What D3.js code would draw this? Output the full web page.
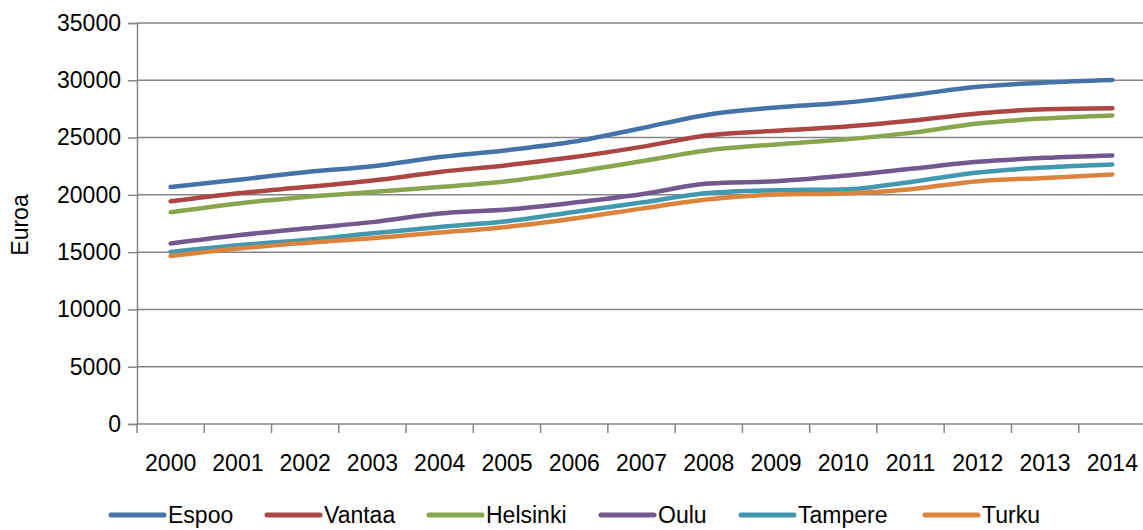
<!DOCTYPE html>
<html>
<head>
<meta charset="utf-8">
<script src="https://cdn.jsdelivr.net/npm/d3@7"></script>
<style>
  body { margin: 0; background: #fff; }
  svg text { font-family: "Liberation Sans", Arial, sans-serif; fill: #000; }
</style>
</head>
<body>
<div id="chart"></div>
<script>
// Chart data
const years = ['2000', '2001', '2002', '2003', '2004', '2005', '2006', '2007',
    '2008', '2009', '2010', '2011', '2012', '2013', '2014'];
const espoo    = [20690, 21320, 21980, 22500, 23300, 23900, 24650, 25820, 27020, 27630, 28030, 28700, 29430, 29800, 30020];
const vantaa   = [19440, 20140, 20680, 21250, 22000, 22590, 23300, 24190, 25200, 25590, 25940, 26460, 27110, 27480, 27570];
const helsinki = [18480, 19250, 19820, 20250, 20690, 21190, 22000, 22940, 23900, 24400, 24830, 25410, 26230, 26670, 26930];
const oulu     = [15750, 16470, 17060, 17620, 18370, 18720, 19330, 20060, 20990, 21190, 21660, 22270, 22880, 23230, 23440];
const tampere  = [15010, 15600, 16060, 16640, 17200, 17700, 18510, 19330, 20170, 20410, 20470, 21130, 21950, 22390, 22650];
const turku    = [14660, 15310, 15800, 16220, 16710, 17200, 17930, 18800, 19620, 20030, 20120, 20490, 21190, 21480, 21780];
const seriesNames = ['Espoo', 'Vantaa', 'Helsinki', 'Oulu', 'Tampere', 'Turku'];
const seriesValues = [espoo, vantaa, helsinki, oulu, tampere, turku];
const colors = ['#4572A7', '#AA4643', '#89A54E', '#71588F', '#4198AF', '#DB843D'];
const yTicks = [0, 5000, 10000, 15000, 20000, 25000, 30000, 35000];

const W = 1143, H = 530;
const margin = { top: 23, right: -3, bottom: 106, left: 137 };
const width = W - margin.left - margin.right;
const height = H - margin.top - margin.bottom;

const svg = d3.select('#chart').append('svg')
    .attr('width', W)
    .attr('height', H);
const g = svg.append('g')
    .attr('transform', `translate(${margin.left},${margin.top})`);

// Scales
const x = d3.scaleBand().domain(years).range([0, width]);
const y = d3.scaleLinear().domain([0, 35000]).range([height, 0]);
const gridColor = '#868686';

// Gridlines
g.selectAll('.grid')
    .data(yTicks.slice(1))
    .enter()
    .append('line')
    .attr('x1', 0)
    .attr('x2', width)
    .attr('y1', d => y(d))
    .attr('y2', d => y(d))
    .attr('stroke', gridColor)
    .attr('stroke-width', 1.5);

// Y axis
const yAxis = g.append('g')
    .call(d3.axisLeft(y).tickValues(yTicks).tickSize(9).tickPadding(7).tickFormat(d => d));
yAxis.select('.domain').attr('stroke', gridColor).attr('stroke-width', 1.5);
yAxis.selectAll('.tick line').attr('stroke', gridColor).attr('stroke-width', 1.5);
yAxis.selectAll('.tick text').style('font-size', '23px');

// X axis: ticks between categories
const xAxis = g.append('g')
    .attr('transform', `translate(0,${height})`);
xAxis.append('line')
    .attr('x1', 0).attr('x2', width)
    .attr('stroke', gridColor).attr('stroke-width', 1.5);
xAxis.selectAll('.xtick')
    .data(years)
    .enter()
    .append('line')
    .attr('x1', d => x(d))
    .attr('x2', d => x(d))
    .attr('y1', 0)
    .attr('y2', 9)
    .attr('stroke', gridColor)
    .attr('stroke-width', 1.5);
xAxis.selectAll('.xlabel')
    .data(years)
    .enter()
    .append('text')
    .attr('x', d => x(d) + x.bandwidth() / 2)
    .attr('y', 47)
    .attr('text-anchor', 'middle')
    .style('font-size', '23px')
    .text(d => d);

// Y axis title
svg.append('text')
    .attr('transform', 'translate(28,225) rotate(-90)')
    .attr('text-anchor', 'middle')
    .style('font-size', '23px')
    .text('Euroa');

// Lines
const line = d3.line()
    .x((d, i) => x(years[i]) + x.bandwidth() / 2)
    .y(d => y(d))
    .curve(d3.curveMonotoneX);

seriesValues.forEach((vals, k) => {
    g.append('path')
        .datum(vals)
        .attr('fill', 'none')
        .attr('stroke', colors[k])
        .attr('stroke-width', 4.5)
        .attr('stroke-linecap', 'round')
        .attr('stroke-linejoin', 'round')
        .attr('d', line);
});

// Legend
const legendX = [111, 267, 429, 601, 741, 925];
const legend = svg.append('g').attr('transform', 'translate(0,515)');
seriesNames.forEach((name, k) => {
    legend.append('line')
        .attr('x1', legendX[k])
        .attr('x2', legendX[k] + 53)
        .attr('y1', 0)
        .attr('y2', 0)
        .attr('stroke', colors[k])
        .attr('stroke-width', 5)
        .attr('stroke-linecap', 'round');
    legend.append('text')
        .attr('x', legendX[k] + 57)
        .attr('y', 8)
        .style('font-size', '23px')
        .text(name);
});
</script>
</body>
</html>
